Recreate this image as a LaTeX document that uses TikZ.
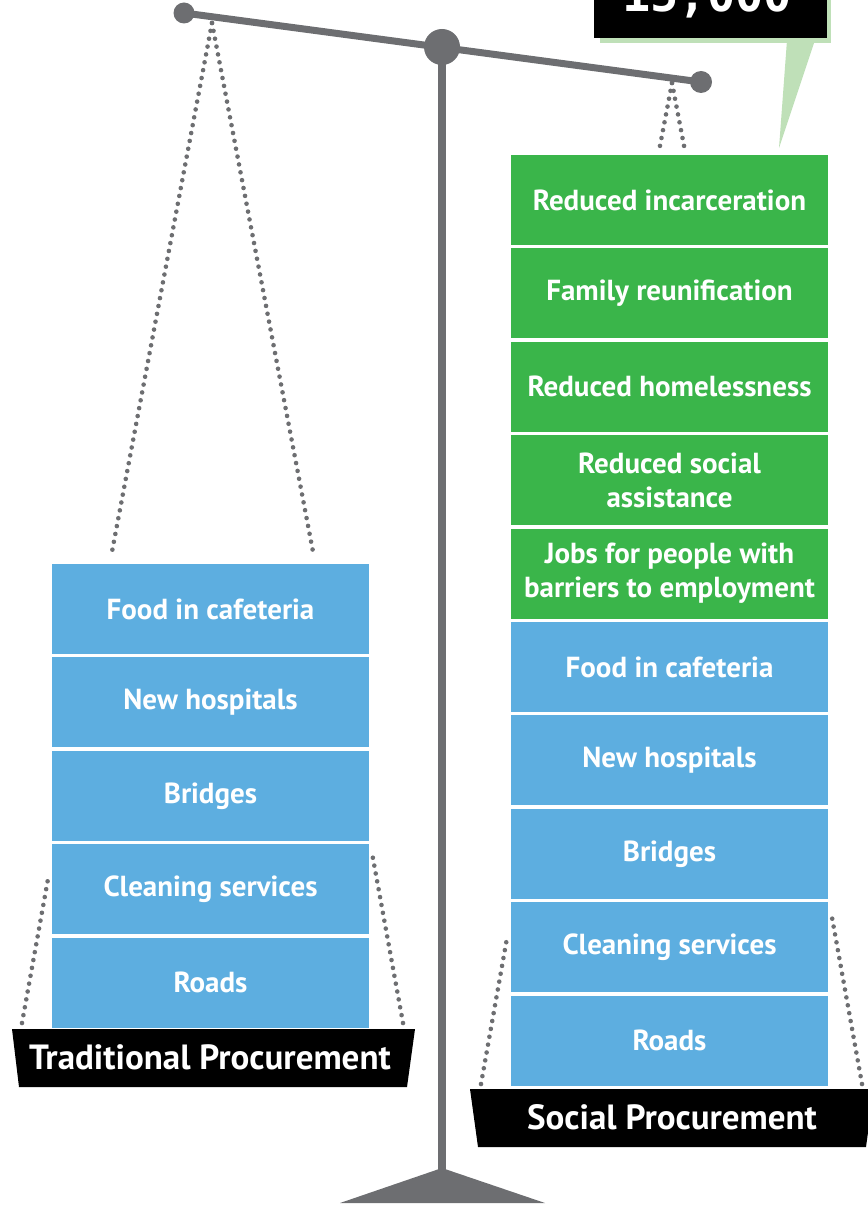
\documentclass[tikz,border=0pt]{standalone}
\usepackage{fontspec}
\setmainfont{PT Sans}
\newfontfamily\countfont{DejaVu Sans Mono}
\usetikzlibrary{positioning}
\definecolor{beamgray}{HTML}{6D6E71}
\definecolor{socialgreen}{HTML}{3AB54A}
\definecolor{plainblue}{HTML}{5DAEE0}
\definecolor{tailgreen}{HTML}{BFE0B8}

\tikzset{
  panbox/.style={minimum width=317pt, minimum height=90pt, inner sep=0pt,
    text=white, align=center, font=\fontsize{29}{34}\selectfont\bfseries},
  bluebox/.style={panbox, fill=plainblue},
  greenbox/.style={panbox, fill=socialgreen},
  cord/.style={draw=beamgray, line width=4.6pt, line cap=round,
    dash pattern=on 0pt off 8pt},
  plate/.style={fill=black},
  platetext/.style={text=white, font=\fontsize{35}{40}\selectfont\bfseries},
}

\begin{document}
\begin{tikzpicture}[x=1pt, y=-1pt]
\useasboundingbox (0,0) rectangle (867,1206);

% callout
\fill[tailgreen] (600,0) rectangle (831,43);
\fill[tailgreen] (787,40) -- (815,40) -- (779,148) -- cycle;
\fill[black] (594,-60) rectangle (827,38);
\node[anchor=base, text=white, font=\countfont\fontsize{47}{50}\selectfont\bfseries]
  (count) at (707,12) {15,000};

% hooks and corners
\coordinate (lhook) at (212,23);
\coordinate (rhook) at (672,83);
\coordinate (ltl) at (12,1029);
\coordinate (ltr) at (415,1029);
\coordinate (lbr) at (407,1087);
\coordinate (lbl) at (19,1087);
\coordinate (rtl) at (470,1089);
\coordinate (rtr) at (874,1089);
\coordinate (rbr) at (866,1147);
\coordinate (rbl) at (478,1147);

% cords
\draw[cord] (lhook) -- (111,557);
\draw[cord] (lhook) -- (314,557);
\draw[cord] (rhook) -- (659,151);
\draw[cord] (rhook) -- (685,151);
\draw[cord] (22,1023) -- (48,879);
\draw[cord] (403,1023) -- (372,853);
\draw[cord] (481,1084) -- (507,938);
\draw[cord] (862,1084) -- (831,912);

% stand
\draw[beamgray, line width=8pt] (442,47) -- (442,1172);
\fill[beamgray] (442,1168) -- (545,1203) -- (340,1203) -- cycle;
\draw[beamgray, line width=7pt] (184,13) -- (701,82);
\fill[beamgray] (184,13) circle (10.5);
\fill[beamgray] (701,82) circle (11);
\fill[beamgray] (442,47) circle (18);

% traditional pan
\node[bluebox] (tfood) at (210.5,609) {Food in cafeteria};
\node[bluebox, below=3pt of tfood] (thosp) {New hospitals};
\node[bluebox, below=3pt of thosp] (tbridge) {Bridges};
\node[bluebox, below=3pt of tbridge] (tclean) {Cleaning services};
\node[bluebox, below=3pt of tclean] (troad) {Roads};
\fill[plate] (ltl) -- (ltr) -- (lbr) -- (lbl) -- cycle;
\node[platetext] (tlabel) at (210,1057) {Traditional Procurement};

% social pan
\node[greenbox] (sjail) at (669.5,200) {Reduced incarceration};
\node[greenbox, below=3pt of sjail] (sfamily) {Family reunification};
\node[greenbox, below=3pt of sfamily] (shome) {Reduced homelessness};
\node[greenbox, below=3pt of shome] (sassist) {Reduced social\\assistance};
\node[greenbox, below=3pt of sassist] (sjobs) {Jobs for people with\\barriers to employment};
\node[bluebox, below=3pt of sjobs] (sfood) {Food in cafeteria};
\node[bluebox, below=3pt of sfood] (shosp) {New hospitals};
\node[bluebox, below=3pt of shosp] (sbridge) {Bridges};
\node[bluebox, below=3pt of sbridge] (sclean) {Cleaning services};
\node[bluebox, below=3pt of sclean] (sroad) {Roads};
\fill[plate] (rtl) -- (rtr) -- (rbr) -- (rbl) -- cycle;
\node[platetext] (slabel) at (672,1117) {Social Procurement};
\end{tikzpicture}
\end{document}
